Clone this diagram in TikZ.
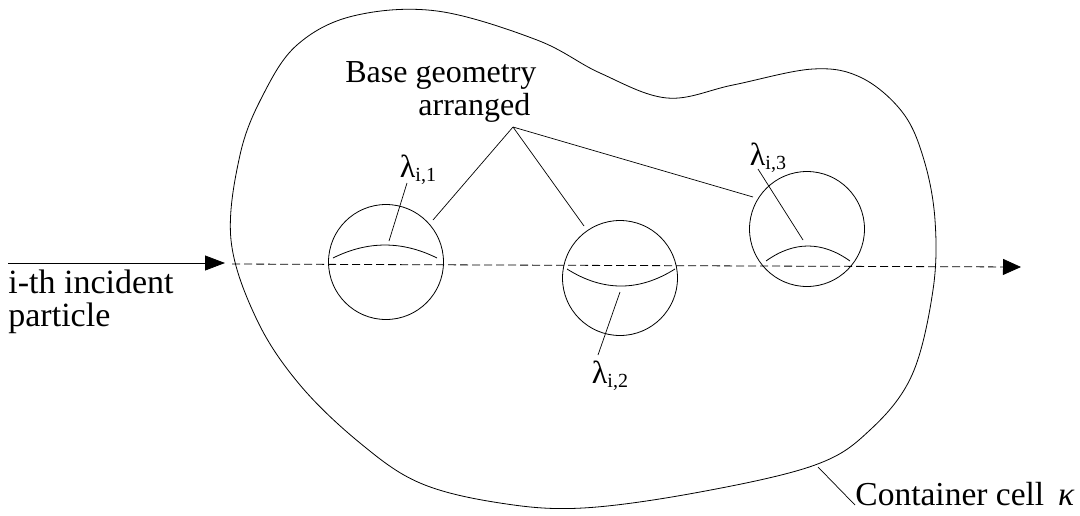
\documentclass[tikz,border=0pt]{standalone}
\usepackage{fontspec}
\setmainfont{Liberation Serif}
\newfontfamily\tnr{Liberation Serif}
\usetikzlibrary{arrows.meta}
\newcommand\lamlab[1]{{\fontsize{32}{32}\selectfont λ}\raisebox{-4pt}{\fontsize{20}{20}\selectfont i,#1}}
\begin{document}
\begin{tikzpicture}[x=1pt,y=-1pt,line width=0.8pt,
  txt/.style={inner sep=0pt,font=\tnr\fontsize{32}{32}\selectfont},
  bigtxt/.style={inner sep=0pt,font=\tnr\fontsize{34}{34}\selectfont},
  lam/.style={inner sep=0pt,font=\tnr},
  ball/.style={circle,draw,inner sep=0pt,minimum size=115pt},
  lead/.style={line width=0.7pt},
  path/.style={dash pattern=on 8pt off 4pt,-{Triangle[length=18pt,width=16pt]}}]
\useasboundingbox (0,0) rectangle (1080,515);
% container cell
\draw plot[smooth cycle,tension=0.6] coordinates {(231,240) (240,155) (263,95) (297,45) (353,16) (437,11) (537,40) (600,73) (667,98) (733,85) (813,69) (862,78) (903,113) (924,160) (935,220) (933,290) (912,375) (870,430) (815,465) (700,492) (583,508) (500,503) (420,483) (360,443) (300,385) (257,320)};
% balls
\node[ball] (c1) at (386,262) {};
\node[ball] (c2) at (620,278) {};
\node[ball] (c3) at (807,229) {};
% inner arcs
\draw (333,258) .. controls (367.7,240.7) and (402.3,240.7) .. (437,258);
\draw (567,269) .. controls (603,291.7) and (639,291.7) .. (675,269);
\draw (766,261) .. controls (794,241) and (822,241) .. (850,261);
% incident particle
\coordinate (s0) at (8,263);
\coordinate (s1) at (225,263);
\coordinate (p0) at (232,264);
\coordinate (p1) at (1021,267);
\draw[-{Triangle[length=20pt,width=15pt]}] (s0) -- (s1);
\draw[path] (p0) -- (p1);
\node[bigtxt,anchor=base west] (inc) at (8,293) {i-th incident};
\node[bigtxt,anchor=base west] (par) at (8,326) {particle};
% base geometry
\node[txt,anchor=base west] (bg1) at (345,82) {Base geometry};
\node[txt,anchor=base west] (bg2) at (418,115) {arranged};
\coordinate (apex) at (513,127);
\coordinate (e1) at (433,220);
\coordinate (e2) at (584,226);
\coordinate (e3) at (753,197);
\draw[lead] (apex) -- (e1);
\draw[lead] (apex) -- (e2);
\draw[lead] (apex) -- (e3);
% lambda labels
\node[lam] (l1) at (418,170) {\lamlab{1}};
\node[lam] (l2) at (610,376) {\lamlab{2}};
\node[lam] (l3) at (768,158) {\lamlab{3}};
\coordinate (b1) at (407,183);
\coordinate (b2) at (598,355);
\coordinate (b3) at (758,169);
\coordinate (a1) at (389,241);
\coordinate (a2) at (620,292);
\coordinate (a3) at (803,240);
\draw[lead] (b1) -- (a1);
\draw[lead] (b2) -- (a2);
\draw[lead] (b3) -- (a3);
% container label
\node[txt,anchor=base west,font=\tnr\fontsize{33.5}{33.5}\selectfont] (cc) at (855,505) {Container cell \,\textit{κ}};
\coordinate (k0) at (818,467);
\draw[lead] (k0) -- (cc.base west);
\end{tikzpicture}
\end{document}
